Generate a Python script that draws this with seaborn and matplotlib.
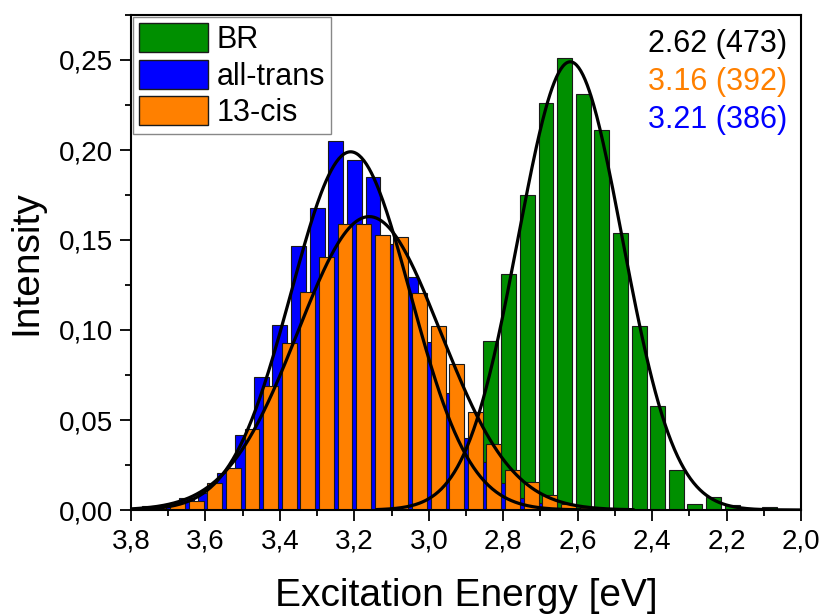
import numpy as np
import pandas as pd
import matplotlib
matplotlib.use("Agg")
import matplotlib.pyplot as plt
from matplotlib.patches import Patch
from matplotlib.ticker import MultipleLocator, FuncFormatter
import seaborn as sns

# histogram data (bar centres in eV, bar heights)
br_energy = [2.835, 2.785, 2.735, 2.685, 2.635, 2.585, 2.535, 2.485,
             2.435, 2.385, 2.335, 2.285, 2.235, 2.185, 2.135, 2.085]
br_intensity = [0.094, 0.131, 0.175, 0.226, 0.251, 0.231, 0.211, 0.154,
                0.102, 0.058, 0.022, 0.0033, 0.0072, 0.003, 0.0, 0.0015]

trans_energy = [3.75, 3.70, 3.65, 3.60, 3.55, 3.50, 3.45, 3.40, 3.35, 3.30,
                3.25, 3.20, 3.15, 3.10, 3.05, 3.00, 2.95, 2.90, 2.85, 2.80,
                2.75, 2.70, 2.65]
trans_intensity = [0.002, 0.003, 0.0065, 0.0096, 0.0204, 0.0417, 0.0737, 0.103,
                   0.1467, 0.1676, 0.205, 0.1944, 0.185, 0.148, 0.1296, 0.0935,
                   0.0648, 0.0398, 0.0268, 0.0148, 0.0065, 0.0039, 0.001]

cis_energy = [3.725, 3.675, 3.625, 3.575, 3.525, 3.475, 3.425, 3.375, 3.325,
              3.275, 3.225, 3.175, 3.125, 3.075, 3.025, 2.975, 2.925, 2.875,
              2.825, 2.775, 2.725, 2.675, 2.625, 2.575]
cis_intensity = [0.0024, 0.0037, 0.0052, 0.0148, 0.0232, 0.045, 0.0689, 0.093,
                 0.1213, 0.1407, 0.159, 0.159, 0.153, 0.1515, 0.1207, 0.1022,
                 0.0811, 0.0543, 0.0365, 0.022, 0.0153, 0.0082, 0.0035, 0.0018]

# gaussian fits: centre, amplitude, sigma, plotted range
br_fit = (2.62, 0.249, 0.14, (3.14, 2.0))
trans_fit = (3.21, 0.199, 0.16, (3.8, 2.45))
cis_fit = (3.16, 0.163, 0.192, (3.8, 2.45))

labels = ["BR", "all-trans", "13-cis"]
colors = ["#008f00", "#0000ff", "#ff8000"]
peak_texts = ["2.62 (473)", "3.16 (392)", "3.21 (386)"]
peak_colors = ["black", "#ff8000", "#0000ff"]

sns.set_style("ticks")
plt.rcParams['font.family'] = ['Liberation Sans', 'DejaVu Sans']
plt.rcParams.update({"text.color": "black", "axes.labelcolor": "black",
                     "xtick.color": "black", "ytick.color": "black"})

fig = plt.figure(figsize=(8.25, 6.15), dpi=100)
ax = fig.add_axes([131 / 825, 1 - 510 / 615, 670 / 825, 495 / 615])

bin_w = 0.05
for en, inten, col in [(br_energy, br_intensity, colors[0]),
                       (trans_energy, trans_intensity, colors[1]),
                       (cis_energy, cis_intensity, colors[2])]:
    df = pd.DataFrame({"energy": en, "intensity": inten})
    c = np.sort(np.array(en))
    edges = list(np.append(c - bin_w / 2, c[-1] + bin_w / 2))
    sns.histplot(data=df, x="energy", weights="intensity", bins=edges,
                 shrink=0.8, color=col, alpha=1, edgecolor="#1a1a1a",
                 linewidth=0.8, ax=ax)

for xc, amp, sig, (x0, x1) in [br_fit, trans_fit, cis_fit]:
    xs = np.linspace(x1, x0, 400)
    ys = amp * np.exp(-(xs - xc) ** 2 / (2 * sig ** 2))
    sns.lineplot(x=xs, y=ys, color="black", lw=2.3, ax=ax)

ax.set_xlim(3.8, 2.0)
ax.set_ylim(0, 0.275)
ax.xaxis.set_major_locator(MultipleLocator(0.2))
ax.xaxis.set_minor_locator(MultipleLocator(0.1))
ax.yaxis.set_major_locator(MultipleLocator(0.05))
ax.yaxis.set_minor_locator(MultipleLocator(0.025))
ax.xaxis.set_major_formatter(FuncFormatter(lambda v, p: f"{v:.1f}".replace(".", ",")))
ax.yaxis.set_major_formatter(FuncFormatter(lambda v, p: f"{v:.2f}".replace(".", ",")))
ax.tick_params(which="major", direction="out", length=8, width=1.3, labelsize=20,
               top=False, right=False, pad=5, colors="black")
ax.tick_params(which="minor", direction="out", length=4.5, width=1.3,
               top=False, right=False, colors="black")
for s in ax.spines.values():
    s.set_linewidth(1.5)
    s.set_color("black")

ax.set_xlabel("Excitation Energy [eV]", fontsize=28, labelpad=17, color="black")
ax.set_ylabel("Intensity", fontsize=28, labelpad=10, color="black")

handles = [Patch(facecolor=c, edgecolor="#1a1a1a", linewidth=1) for c in colors]
leg = ax.legend(handles, labels, loc="upper left", fontsize=22, frameon=True,
                fancybox=False, framealpha=1, edgecolor="#888888",
                borderaxespad=0.08, borderpad=0.18, handlelength=2.25,
                handleheight=1.08, handletextpad=0.3, labelspacing=0.16,
                labelcolor="black")
leg.get_frame().set_linewidth(1.0)

for i, (t, c) in enumerate(zip(peak_texts, peak_colors)):
    ax.text(0.979, 0.942 - 0.077 * i, t, color=c, fontsize=22,
            ha="right", va="center", transform=ax.transAxes)

fig.savefig("out.png", dpi=100)
